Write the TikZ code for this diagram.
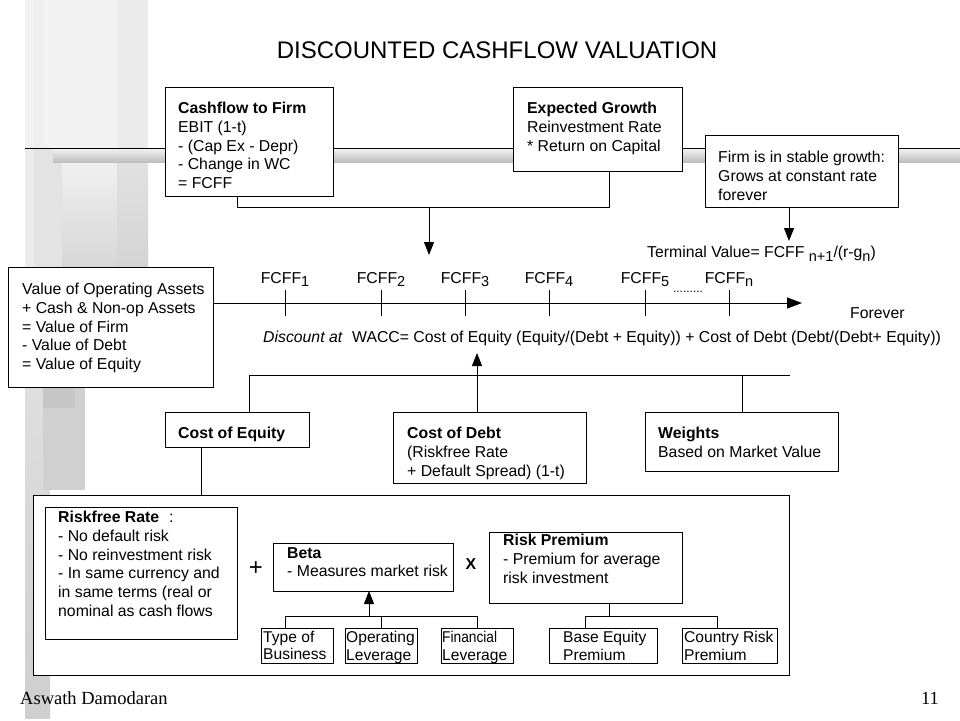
\documentclass[tikz,border=0pt]{standalone}
\usepackage{fontspec}
\setmainfont{Liberation Sans}
\newfontfamily\serifface{Liberation Serif}
\usetikzlibrary{arrows.meta,calc}
\newcommand\bodyfs{\fontsize{15.8pt}{18.7pt}\selectfont}
\newcommand\smallboxfs{\fontsize{15.6pt}{17.5pt}\selectfont}
\newcommand\subsc[1]{\raisebox{-3.5pt}{\fontsize{14.5pt}{15pt}\selectfont #1}}
\begin{document}
\begin{tikzpicture}[x=1pt,y=-1pt,
  frame/.style={draw=black, line width=1pt, fill=white, anchor=north west, inner sep=0pt, outer sep=0pt},
  txt/.style={anchor=north west, inner sep=0pt, align=left, font=\bodyfs},
  stxt/.style={anchor=north west, inner sep=0pt, align=left, font=\smallboxfs},
  conn/.style={line width=1pt},
  arr/.style={line width=1pt, -{Triangle[length=13pt,width=10pt]}},
  tlarr/.style={line width=1pt, -{Triangle[length=15pt,width=11pt]}},
]
\useasboundingbox (0,0) rectangle (960,720);
\fill[white] (0,0) rectangle (960,720);
% ---- slide template decoration ----
\fill[gray!10] (25,0) rectangle (148,148);
\fill[gray!13] (34,0) rectangle (43,148);
\fill[gray!16] (118,0) rectangle (148,148);
\fill[gray!16] (25,148) rectangle (34,267);
\fill[gray!22] (34,148) rectangle (62,267);
\shade[top color=gray!9, bottom color=gray!32] (62,148) rectangle (117,267);
\shade[top color=gray!22, bottom color=gray!34] (117,148) rectangle (148,267);
\shade[top color=gray!26, bottom color=gray!38] (25,387) rectangle (50,718);
\fill[gray!37] (43,387) rectangle (85,490);
\fill[gray!45] (43,387) rectangle (75,408);
\shade[top color=gray!12, bottom color=gray!50] (53,149) rectangle (960,162);
\draw[line width=1pt] (25,148) -- (960,148);
% ---- title ----
\node[font=\fontsize{24pt}{28pt}\selectfont, inner sep=0pt] (title) at (497,50) {DISCOUNTED CASHFLOW VALUATION};
% ---- top boxes ----
\node[frame, minimum width=168pt, minimum height=109pt] (cff) at (165,87) {};
\node[txt] (cfft) at (178,102) {\textbf{Cashflow to Firm}\\EBIT (1-t)\\- (Cap Ex - Depr)\\- Change in WC\\= FCFF};
\node[frame, minimum width=169pt, minimum height=84pt] (eg) at (513,87) {};
\node[txt] (egt) at (527,102) {\textbf{Expected Growth}\\Reinvestment Rate\\* Return on Capital};
\node[frame, minimum width=193pt, minimum height=72pt] (fsg) at (705,135) {};
\node[txt] (fsgt) at (718,151) {Firm is in stable growth:\\Grows at constant rate\\forever};
% bracket + arrows
\coordinate (b1) at (237,207);
\coordinate (b2) at (609,207);
\coordinate (a1s) at (429,207);
\coordinate (a1) at (429,255);
\draw[conn] (cff.south -| b1) -- (b1) -- (b2) -- (eg.south -| b2);
\draw[arr] (a1s) -- (a1);
\coordinate (a2) at (789,241);
\draw[arr] (fsg.south -| a2) -- (a2);
\node[txt] (tv) at (647,246) {Terminal Value= FCFF \subsc{n+1}/(r-g\subsc{n})};
% ---- value box ----
\node[frame, minimum width=205pt, minimum height=120pt] (val) at (8,267) {};
\node[txt] (valt) at (22,283) {Value of Operating Assets\\+ Cash \& Non-op Assets\\= Value of Firm\\- Value of Debt\\= Value of Equity};
% ---- timeline ----
\coordinate (tlend) at (802,303);
\draw[tlarr] (val.east |- tlend) -- (tlend);
\foreach \x/\s [count=\i] in {285/1,381/2,465/3,549/4,645/5,729/n}{
  \coordinate (tk\i) at (\x,303);
  \draw[conn] ($(tk\i)+(0,-13)$) -- ($(tk\i)+(0,13)$);
  \node[anchor=north, inner sep=0pt, font=\bodyfs] (fc\i) at (\x,272) {FCFF\subsc{\s}};
}
\node[anchor=base, inner sep=0pt, font=\fontsize{12pt}{12pt}\selectfont] (dots) at (688,292) {.........};
\node[txt] (forever) at (850,307) {Forever};
\node[txt, font=\bodyfs\itshape] (disc) at (263,331) {Discount at};
\node[txt] (wacc) at (352,331) {WACC= Cost of Equity (Equity/(Debt + Equity)) + Cost of Debt (Debt/(Debt+ Equity))};
% ---- middle boxes ----
\node[frame, minimum width=144pt, minimum height=35pt] (coe) at (165,412) {};
\node[txt] (coet) at (178,427) {\textbf{Cost of Equity}};
\node[frame, minimum width=193pt, minimum height=71pt] (cod) at (393,412) {};
\node[txt] (codt) at (407,427) {\textbf{Cost of Debt}\\(Riskfree Rate\\+ Default Spread) (1-t)};
\node[frame, minimum width=193pt, minimum height=59pt] (wts) at (645,412) {};
\node[txt] (wtst) at (658,427) {\textbf{Weights}\\Based on Market Value};
\coordinate (h1) at (249,375);
\coordinate (h2) at (790,375);
\coordinate (h3) at (742,375);
\coordinate (a3) at (477,353);
\draw[conn] (h1) -- (h2);
\draw[conn] (h1) -- (coe.north -| h1);
\draw[conn] (h3) -- (wts.north -| h3);
\draw[arr] (cod.north -| a3) -- (a3);
% ---- big lower box ----
\node[frame, minimum width=756pt, minimum height=180pt] (big) at (33,495) {};
\coordinate (c1) at (201,450);
\draw[conn] (coe.south -| c1) -- (big.north -| c1);
\node[frame, minimum width=192pt, minimum height=132pt] (rf) at (45,507) {};
\node[txt] (rft) at (58,511) {\textbf{Riskfree Rate}\hspace{10pt}:\\- No default risk\\- No reinvestment risk\\- In same currency and\\in same terms (real or\\nominal as cash flows};
\node[font=\fontsize{24pt}{24pt}\selectfont, inner sep=0pt] (plus) at (256,569) {+};
\node[frame, minimum width=180pt, minimum height=48pt] (beta) at (273,543) {};
\node[txt] (betat) at (287,547) {\textbf{Beta}\\- Measures market risk};
\node[font=\bodyfs\bfseries, inner sep=0pt] (times) at (471,564) {X};
\node[frame, minimum width=193pt, minimum height=71pt] (rp) at (489,532) {};
\node[txt] (rpt) at (503,534) {\textbf{Risk Premium}\\- Premium for average\\risk investment};
% small boxes
\node[frame, minimum width=72pt, minimum height=35pt] (tob) at (261,628) {};
\node[stxt] (tobt) at (263,631) {Type of\\Business};
\node[frame, minimum width=72pt, minimum height=35pt] (opl) at (345,628) {};
\node[stxt] (oplt) at (346,631) {Operating\\Leverage};
\node[frame, minimum width=72pt, minimum height=35pt] (fin) at (441,628) {};
\node[stxt] (fint) at (442,631) {\scalebox{0.88}[1]{Financial}\\Leverage};
\node[frame, minimum width=108pt, minimum height=35pt] (bep) at (549,628) {};
\node[stxt] (bept) at (563,631) {Base Equity\\Premium};
\node[frame, minimum width=95pt, minimum height=35pt] (crp) at (682,628) {};
\node[stxt] (crpt) at (684,631) {Country Risk\\Premium};
% beta subtree
\coordinate (bl) at (285,616);
\coordinate (bm) at (381,616);
\coordinate (br) at (477,616);
\coordinate (ba) at (369,616);
\draw[conn] (tob.north -| bl) -- (bl) -- (br) -- (fin.north -| br);
\draw[conn] (bm) -- (opl.north -| bm);
\draw[arr] (ba) -- (beta.south -| ba);
% risk premium subtree
\coordinate (rl) at (585,616);
\coordinate (rm) at (609,616);
\coordinate (rr) at (717,616);
\draw[conn] (bep.north -| rl) -- (rl) -- (rr) -- (crp.north -| rr);
\draw[conn] (rp.south -| rm) -- (rm);
% ---- footer ----
\node[font=\serifface\fontsize{18.5pt}{20pt}\selectfont, anchor=base west, inner sep=0pt] (auth) at (20,704) {Aswath Damodaran};
\node[font=\serifface\fontsize{18.5pt}{20pt}\selectfont, anchor=base east, inner sep=0pt] (pg) at (939,704) {11};
\end{tikzpicture}
\end{document}
